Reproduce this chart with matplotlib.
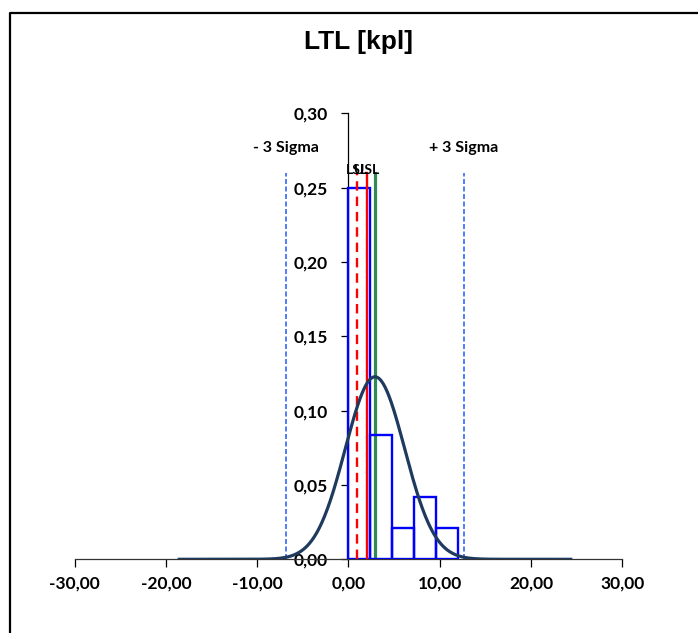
import numpy as np
import matplotlib
matplotlib.use("Agg")
import matplotlib.pyplot as plt
from matplotlib.lines import Line2D

# ---- data ----
title = "LTL [kpl]"
bin_edges = [0.0, 2.4, 4.8, 7.2, 9.6]
bin_width = 2.4
bin_heights = [0.25, 0.0833, 0.0208, 0.0417, 0.0208]
mean = 2.9
sigma = 3.25
curve_span_sigma = 6.6
lsl = 0.9
usl = 2.0
center_line = 2.87
limit_top = 0.26
sigma_labels = ["- 3 Sigma", "+ 3 Sigma"]
spec_labels = ["LSL", "USL"]
x_ticks = [-30, -20, -10, 0, 10, 20, 30]
y_ticks = [0.0, 0.05, 0.10, 0.15, 0.20, 0.25, 0.30]

def comma(v, d):
    return f"{v:.{d}f}".replace(".", ",")

fig = plt.figure(figsize=(6.98, 6.33), dpi=100)
ax = fig.add_axes([74.7/698, 1-559.3/633, (622.3-74.7)/698, (559.3-113.3)/633])

tick_font = dict(family="Lato", weight="bold", size=12.5)

# histogram
ax.bar(bin_edges, bin_heights, width=bin_width, align="edge", fill=False,
       edgecolor="#0000ff", linewidth=1.7, zorder=3)

# spec lines
ax.plot([lsl, lsl], [0, limit_top], color="#ff0000", lw=1.7, ls=(0, (4, 2.5)), zorder=4)
ax.plot([usl, usl], [0, limit_top], color="#ff0000", lw=1.7, zorder=4)
ax.plot([center_line, center_line], [0, limit_top], color="#2e8b57", lw=2.3, zorder=2)

# +-3 sigma lines
lo3 = mean - 3*sigma
hi3 = mean + 3*sigma
for xv in (lo3, hi3):
    ax.plot([xv, xv], [0, limit_top], color="#3366ff", lw=1.2, ls=(0, (3, 1.5)), zorder=2)

# normal curve
xs = np.linspace(mean - curve_span_sigma*sigma, mean + curve_span_sigma*sigma, 400)
ys = np.exp(-0.5*((xs-mean)/sigma)**2)/(sigma*np.sqrt(2*np.pi))
ax.plot(xs, ys, color="#1f3a5f", lw=2.3, zorder=5)

# labels
lab_font = dict(family="Lato", weight="bold", size=11.5)
ax.text(lo3, 0.2767, sigma_labels[0], ha="center", va="center", **lab_font)
ax.text(hi3, 0.2767, sigma_labels[1], ha="center", va="center", **lab_font)
small = dict(family="Lato", weight="bold", size=10)
ax.text(lsl, 0.262, spec_labels[0], ha="center", va="center", zorder=6, **small)
ax.text(usl, 0.262, spec_labels[1], ha="center", va="center", zorder=6, **small)

# axes styling
ax.set_xlim(-30, 30)
ax.set_ylim(0, 0.30)
for s in ("top", "right"):
    ax.spines[s].set_visible(False)
ax.spines["left"].set_position(("data", 0))
ax.spines["bottom"].set_position(("data", 0))
ax.spines["left"].set_color("#000000")
ax.spines["bottom"].set_color("#333333")
ax.spines["left"].set_linewidth(0.9)
ax.spines["bottom"].set_linewidth(0.9)
ax.set_xticks(x_ticks)
ax.set_xticklabels([comma(v, 2) for v in x_ticks], **tick_font)
ax.set_yticks(y_ticks)
ax.set_yticklabels([comma(v, 2) for v in y_ticks], **tick_font)
ax.tick_params(axis="x", direction="out", length=6, width=0.9, pad=6)
ax.tick_params(axis="y", direction="out", length=5, width=0.9, pad=10)
ax.patch.set_alpha(0)

fig.text(358/698, 1-42/633, title, ha="center", va="center",
         family="Liberation Sans", weight="bold", size=19)

# chart frame
fig.add_artist(Line2D([10/698, 10/698, 1.0], [0.0, 1-13/633, 1-13/633],
                      transform=fig.transFigure, color="black", lw=1.6))

fig.savefig("out.png", dpi=100)
